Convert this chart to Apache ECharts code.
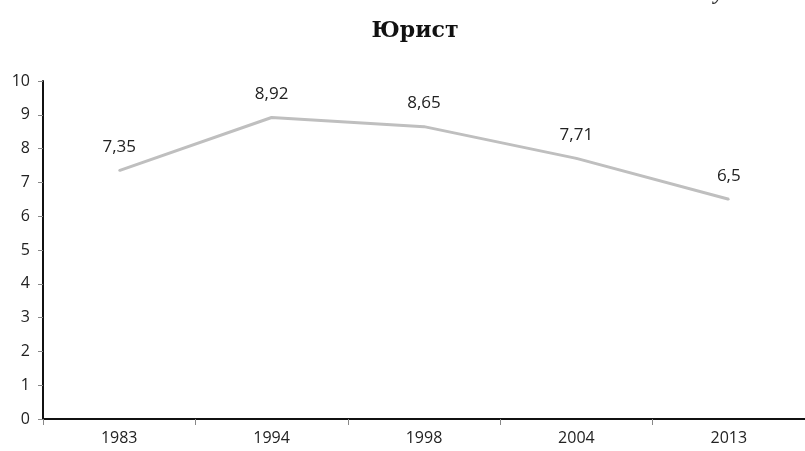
<!DOCTYPE html>
<html><head><meta charset="utf-8">
<script src="https://cdn.jsdelivr.net/npm/echarts@6/dist/echarts.min.js"></script>
<style>html,body{margin:0;padding:0;background:#fff}#c{width:805px;height:451px}</style>
</head><body><div id="c"></div>
<script>
var categories = ['1983', '1994', '1998', '2004', '2013'];
var values = [7.35, 8.92, 8.65, 7.71, 6.5];
var titleText = 'Юрист';
var cornerText = 'Рисунок 4';

var chart = echarts.init(document.getElementById('c'), null, {renderer: 'canvas'});
var font = 'Open Sans, Liberation Sans, sans-serif';
chart.setOption({
  animation: false,
  backgroundColor: '#fff',
  title: {
    text: titleText, left: 410, top: 15, textAlign: 'center',
    textStyle: {fontFamily: 'DejaVu Serif, Liberation Serif, serif', fontWeight: 'bold', fontSize: 22, color: '#111'}
  },
  graphic: [{
    type: 'text', right: 30, top: -18,
    style: {text: cornerText, fontFamily: 'Liberation Serif, serif', fontStyle: 'italic', fontWeight: 'bold', fontSize: 22, fill: '#333'}
  }],
  grid: {left: 43, right: 0, top: 81, bottom: 32, containLabel: false},
  xAxis: {
    type: 'category', data: categories, boundaryGap: true,
    axisLine: {lineStyle: {color: '#111', width: 2}},
    axisTick: {show: true, length: 6, lineStyle: {color: '#888', width: 1}},
    axisLabel: {fontFamily: font, fontSize: 16, color: '#222', margin: 11}
  },
  yAxis: {
    type: 'value', min: 0, max: 10, interval: 1,
    splitLine: {show: false},
    axisLine: {show: true, lineStyle: {color: '#111', width: 2}},
    axisTick: {show: true, length: 5, lineStyle: {color: '#888', width: 1}},
    axisLabel: {fontFamily: font, fontSize: 16, color: '#222', margin: 13}
  },
  series: [{
    type: 'line', data: values, symbol: 'circle', symbolSize: 2, showSymbol: true,
    itemStyle: {color: '#bfbfbf'},
    lineStyle: {color: '#bfbfbf', width: 3},
    label: {
      show: true, position: 'top', distance: 14,
      fontFamily: font, fontSize: 17, color: '#222',
      formatter: function (p) { return String(p.value).replace('.', ','); }
    }
  }]
});
</script></body></html>
